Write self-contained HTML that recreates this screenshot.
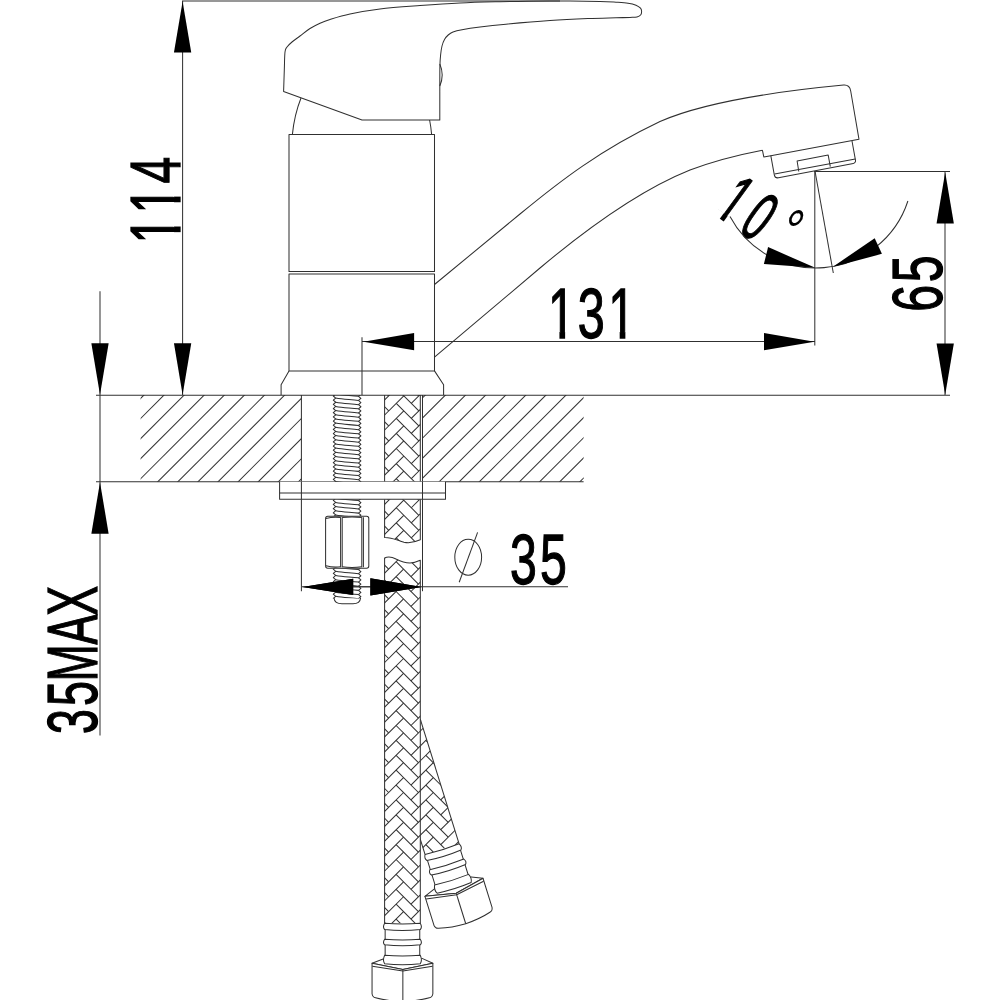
<!DOCTYPE html>
<html><head><meta charset="utf-8"><title>Faucet dimension drawing</title>
<style>
html,body{margin:0;padding:0;background:#fff;}
body{width:1000px;height:1000px;overflow:hidden;}
svg{display:block;}
svg text{font-family:"Liberation Sans",sans-serif;fill:#000;stroke:#000;stroke-width:0.8px;}
.l *, .l{fill:none;stroke:#303030;stroke-width:1.02;stroke-linecap:butt;stroke-linejoin:round;}
.f{fill:#000;stroke:none;}
</style></head><body>
<svg width="1000" height="1000" viewBox="0 0 1000 1000">
<rect width="1000" height="1000" fill="#fff"/>
<g transform="translate(0.00,338.10) rotate(0)"><text x="547.90 577.87 608.15" y="0" font-size="71" textLength="81.15" lengthAdjust="spacingAndGlyphs" style="stroke-width:1.3px">131</text><rect x="549.50" y="-6.35" width="9.93" height="7.95" fill="#fff"/><rect x="565.12" y="-6.35" width="9.55" height="7.95" fill="#fff"/><rect x="609.75" y="-6.35" width="9.93" height="7.95" fill="#fff"/><rect x="625.37" y="-6.35" width="9.55" height="7.95" fill="#fff"/></g>
<g transform="translate(0.00,583.60) rotate(0)"><text x="509.92 540.02" y="0" font-size="71" textLength="53.71" lengthAdjust="spacingAndGlyphs" style="stroke-width:1.3px">35</text></g>
<g transform="translate(179.70,239.20) rotate(-90)"><text x="-4.30 25.60 55.73" y="0" font-size="71" textLength="79.97" lengthAdjust="spacingAndGlyphs" style="stroke-width:1.3px">114</text><rect x="-2.75" y="-6.35" width="9.80" height="7.95" fill="#fff"/><rect x="12.69" y="-6.35" width="9.43" height="7.95" fill="#fff"/><rect x="27.15" y="-6.35" width="9.80" height="7.95" fill="#fff"/><rect x="42.59" y="-6.35" width="9.43" height="7.95" fill="#fff"/></g>
<g transform="translate(942.40,309.80) rotate(-90)"><text x="-1.89 27.57" y="0" font-size="71" textLength="53.71" lengthAdjust="spacingAndGlyphs" style="stroke-width:1.3px">65</text></g>
<g transform="translate(96.80,733.60) rotate(-90)"><text x="-0.31 27.61 52.17 89.08 117.85" y="0" font-size="71" textLength="146.69" lengthAdjust="spacingAndGlyphs" style="stroke-width:1.3px">35MAX</text></g>
<g transform="translate(714.80,214.20) rotate(36)"><text x="-2.46 27.24" y="0" font-size="71" textLength="43.44" lengthAdjust="spacingAndGlyphs" style="stroke-width:1.3px">10</text><rect x="-1.59" y="-6.35" width="8.25" height="7.95" fill="#fff"/><rect x="11.51" y="-6.35" width="7.94" height="7.95" fill="#fff"/></g>
<g transform="translate(720.10,206.90) rotate(36)"><text x="59.66" y="0" font-size="64" textLength="16.89" lengthAdjust="spacingAndGlyphs" style="stroke-width:0.1px">°</text></g>
<g class="l">
<line x1="182.00" y1="1.00" x2="560.00" y2="1.00" />
<line x1="182.60" y1="1.00" x2="182.60" y2="395.00" />
<line x1="100.00" y1="291.30" x2="100.00" y2="735.60" />
<line x1="96.00" y1="395.25" x2="950.00" y2="395.25" />
<line x1="96.00" y1="481.70" x2="583.60" y2="481.70" />
<line x1="945.00" y1="171.60" x2="945.00" y2="395.00" />
<line x1="814.20" y1="171.60" x2="950.00" y2="171.60" />
<line x1="362.00" y1="341.50" x2="815.00" y2="341.50" />
<line x1="814.80" y1="171.00" x2="814.80" y2="345.50" />
<line x1="362.00" y1="337.30" x2="362.00" y2="395.00" />
<line x1="815.00" y1="171.00" x2="833.30" y2="273.00" />
<path d="M730,216.5 A97,97 0 0 0 907.9,201" />
<line x1="301.40" y1="395.00" x2="301.40" y2="591.20" />
<line x1="422.50" y1="395.00" x2="422.50" y2="591.20" />
<line x1="302.00" y1="586.80" x2="568.00" y2="586.80" />
</g>
<polygon class="f" points="182.60,1.50 191.25,52.50 173.95,52.50"/>
<polygon class="f" points="182.60,394.80 173.95,343.30 191.25,343.30"/>
<polygon class="f" points="100.00,394.80 91.35,343.30 108.65,343.30"/>
<polygon class="f" points="100.00,482.30 108.65,533.70 91.35,533.70"/>
<polygon class="f" points="945.20,172.20 953.85,223.50 936.55,223.50"/>
<polygon class="f" points="945.20,394.80 936.55,343.50 953.85,343.50"/>
<polygon class="f" points="363.50,341.70 414.10,333.05 414.10,350.35"/>
<polygon class="f" points="814.50,341.70 764.00,350.35 764.00,333.05"/>
<polygon class="f" points="815.30,267.80 763.91,263.89 768.09,247.11"/>
<polygon class="f" points="832.60,267.00 874.69,238.14 881.91,253.86"/>
<polygon class="f" points="302.60,586.90 353.20,578.70 353.20,595.10"/>
<polygon class="f" points="421.60,586.90 370.40,595.50 370.40,578.30"/>
<g class="l">
<path d="M283.60,91.60 C283.72,88.00 284.07,76.60 284.30,70.00 C284.53,63.40 284.55,55.83 285.00,52.00 C285.45,48.17 285.83,48.67 287.00,47.00 C288.17,45.33 289.83,43.83 292.00,42.00 C294.17,40.17 297.00,38.25 300.00,36.00 C303.00,33.75 306.67,30.63 310.00,28.50 C313.33,26.37 316.67,24.72 320.00,23.20 C323.33,21.68 325.00,20.93 330.00,19.40 C335.00,17.87 341.67,15.73 350.00,14.00 C358.33,12.27 368.33,10.40 380.00,9.00 C391.67,7.60 406.67,6.60 420.00,5.60 C433.33,4.60 446.67,3.65 460.00,3.00 C473.33,2.35 488.67,2.00 500.00,1.70 C511.33,1.40 516.33,1.32 528.00,1.20 C539.67,1.08 558.00,0.97 570.00,1.00 C582.00,1.03 592.33,1.20 600.00,1.40 C607.67,1.60 611.33,1.90 616.00,2.20 C620.67,2.50 624.67,2.70 628.00,3.20 C631.33,3.70 633.92,4.37 636.00,5.20 C638.08,6.03 639.57,7.15 640.50,8.20 C641.43,9.25 641.58,10.37 641.60,11.50 C641.62,12.63 641.37,14.10 640.60,15.00 C639.83,15.90 638.77,16.50 637.00,16.90 C635.23,17.30 633.50,17.25 630.00,17.40 C626.50,17.55 623.00,17.60 616.00,17.80 C609.00,18.00 599.00,18.13 588.00,18.60 C577.00,19.07 563.67,19.67 550.00,20.60 C536.33,21.53 517.67,23.13 506.00,24.20 C494.33,25.27 487.33,26.08 480.00,27.00 C472.67,27.92 466.50,28.87 462.00,29.70 C457.50,30.53 455.30,31.12 453.00,32.00 C450.70,32.88 449.62,33.75 448.20,35.00 C446.78,36.25 445.53,37.67 444.50,39.50 C443.47,41.33 442.65,43.42 442.00,46.00 C441.35,48.58 440.95,51.67 440.60,55.00 C440.25,58.33 440.03,60.83 439.90,66.00 C439.77,71.17 439.82,82.67 439.80,86.00 L439.8,120 L362,120 Z" />
<path d="M439.8,64 Q444.6,75 439.8,86" />
<path d="M301,98 Q294.3,115 292.4,134.4" />
<path d="M429.6,120 Q431,127 431.6,134.4" />
<path d="M289,134.4 H434.5 V271.4 H289 Z" />
<path d="M289,274 H434.5 V370.9 H289 Z" />
<path d="M289,370.9 L281.1,384.8 V395 M434.5,370.9 L443.6,384.8 V395" />
<path d="M434.5,284.5 L520,214 C560,181 600,150 660,121.5 C700,104 760,93 843.6,85.1 Q849.6,84.6 850.7,91 L859,139.3 L770.8,155.7 L763.8,156.9 L762.4,150.2" />
<path d="M434.5,357.2 L540,268 C590,226 640,190 690,170 C715,160.5 740,154.5 762.4,150.2" />
<path d="M770.8,155.7 L774.3,174.8 Q775,178.4 778.5,177.8 L852,163.8 Q856,163 855.5,160.3 L852,141" />
<path d="M774.6,173.9 L855.3,158.9" />
<path d="M798.8,171.5 L797.1,161 L828.2,155.1 L830.3,166.6" />
</g>
<g class="l"><ellipse cx="468.2" cy="557.2" rx="13.4" ry="18"/>
<line x1="459.20" y1="582.30" x2="477.60" y2="532.40" />
</g>
<defs>
<clipPath id="cl"><rect x="140.6" y="395" width="160.8" height="86.7"/></clipPath>
<clipPath id="cr"><rect x="422.5" y="395" width="161.1" height="86.7"/></clipPath>
</defs>
<g class="l" clip-path="url(#cl)">
<line x1="56.00" y1="483.00" x2="145.00" y2="394.00" />
<line x1="76.10" y1="483.00" x2="165.10" y2="394.00" />
<line x1="96.20" y1="483.00" x2="185.20" y2="394.00" />
<line x1="116.30" y1="483.00" x2="205.30" y2="394.00" />
<line x1="136.40" y1="483.00" x2="225.40" y2="394.00" />
<line x1="156.50" y1="483.00" x2="245.50" y2="394.00" />
<line x1="176.60" y1="483.00" x2="265.60" y2="394.00" />
<line x1="196.70" y1="483.00" x2="285.70" y2="394.00" />
<line x1="216.80" y1="483.00" x2="305.80" y2="394.00" />
<line x1="236.90" y1="483.00" x2="325.90" y2="394.00" />
<line x1="257.00" y1="483.00" x2="346.00" y2="394.00" />
<line x1="277.10" y1="483.00" x2="366.10" y2="394.00" />
<line x1="297.20" y1="483.00" x2="386.20" y2="394.00" />
</g>
<g class="l" clip-path="url(#cr)">
<line x1="337.40" y1="483.00" x2="426.40" y2="394.00" />
<line x1="357.50" y1="483.00" x2="446.50" y2="394.00" />
<line x1="377.60" y1="483.00" x2="466.60" y2="394.00" />
<line x1="397.70" y1="483.00" x2="486.70" y2="394.00" />
<line x1="417.80" y1="483.00" x2="506.80" y2="394.00" />
<line x1="437.90" y1="483.00" x2="526.90" y2="394.00" />
<line x1="458.00" y1="483.00" x2="547.00" y2="394.00" />
<line x1="478.10" y1="483.00" x2="567.10" y2="394.00" />
<line x1="498.20" y1="483.00" x2="587.20" y2="394.00" />
<line x1="518.30" y1="483.00" x2="607.30" y2="394.00" />
<line x1="538.40" y1="483.00" x2="627.40" y2="394.00" />
<line x1="558.50" y1="483.00" x2="647.50" y2="394.00" />
<line x1="578.60" y1="483.00" x2="667.60" y2="394.00" />
</g>
<defs>
<clipPath id="h1"><rect x="384.6" y="395" width="35.69999999999999" height="86.7"/></clipPath>
<clipPath id="h2"><path d="M384.6,499.3 H420.3 V539.8 C414,542.6 409,543.4 404,542.2 C397,540.2 392,537.2 384.6,537.4 Z"/></clipPath>
<clipPath id="h3"><path d="M384.6,557.9 C388,556.2 392,556.8 396,559 C401,561.6 405,563 410,563 C414,563 417,561.8 420.3,560.3 V923.2 H384.6 Z"/></clipPath>
</defs>
<g class="l" clip-path="url(#h1)">
<line x1="351.10" y1="343.15" x2="373.68" y2="320.57" />
<line x1="366.15" y1="328.10" x2="388.73" y2="350.67" />
<line x1="351.10" y1="358.20" x2="373.68" y2="335.62" />
<line x1="366.15" y1="343.15" x2="388.73" y2="365.72" />
<line x1="351.10" y1="373.25" x2="373.68" y2="350.68" />
<line x1="366.15" y1="358.20" x2="388.73" y2="380.77" />
<line x1="351.10" y1="388.30" x2="373.68" y2="365.72" />
<line x1="366.15" y1="373.25" x2="388.73" y2="395.82" />
<line x1="351.10" y1="403.35" x2="373.68" y2="380.77" />
<line x1="366.15" y1="388.30" x2="388.73" y2="410.87" />
<line x1="351.10" y1="418.40" x2="373.68" y2="395.82" />
<line x1="366.15" y1="403.35" x2="388.73" y2="425.92" />
<line x1="351.10" y1="433.45" x2="373.68" y2="410.88" />
<line x1="366.15" y1="418.40" x2="388.73" y2="440.97" />
<line x1="351.10" y1="448.50" x2="373.68" y2="425.93" />
<line x1="366.15" y1="433.45" x2="388.73" y2="456.02" />
<line x1="351.10" y1="463.55" x2="373.68" y2="440.97" />
<line x1="366.15" y1="448.50" x2="388.73" y2="471.07" />
<line x1="351.10" y1="478.60" x2="373.68" y2="456.02" />
<line x1="366.15" y1="463.55" x2="388.73" y2="486.12" />
<line x1="351.10" y1="493.65" x2="373.68" y2="471.07" />
<line x1="366.15" y1="478.60" x2="388.73" y2="501.17" />
<line x1="351.10" y1="508.70" x2="373.68" y2="486.12" />
<line x1="366.15" y1="493.65" x2="388.73" y2="516.23" />
<line x1="351.10" y1="523.75" x2="373.68" y2="501.18" />
<line x1="366.15" y1="508.70" x2="388.73" y2="531.27" />
<line x1="351.10" y1="538.80" x2="373.68" y2="516.22" />
<line x1="366.15" y1="523.75" x2="388.73" y2="546.33" />
<line x1="381.20" y1="343.15" x2="403.78" y2="320.57" />
<line x1="396.25" y1="328.10" x2="418.83" y2="350.67" />
<line x1="381.20" y1="358.20" x2="403.78" y2="335.62" />
<line x1="396.25" y1="343.15" x2="418.83" y2="365.72" />
<line x1="381.20" y1="373.25" x2="403.78" y2="350.68" />
<line x1="396.25" y1="358.20" x2="418.83" y2="380.77" />
<line x1="381.20" y1="388.30" x2="403.78" y2="365.72" />
<line x1="396.25" y1="373.25" x2="418.83" y2="395.82" />
<line x1="381.20" y1="403.35" x2="403.78" y2="380.77" />
<line x1="396.25" y1="388.30" x2="418.83" y2="410.87" />
<line x1="381.20" y1="418.40" x2="403.78" y2="395.82" />
<line x1="396.25" y1="403.35" x2="418.83" y2="425.92" />
<line x1="381.20" y1="433.45" x2="403.78" y2="410.88" />
<line x1="396.25" y1="418.40" x2="418.83" y2="440.97" />
<line x1="381.20" y1="448.50" x2="403.78" y2="425.93" />
<line x1="396.25" y1="433.45" x2="418.83" y2="456.02" />
<line x1="381.20" y1="463.55" x2="403.78" y2="440.97" />
<line x1="396.25" y1="448.50" x2="418.83" y2="471.07" />
<line x1="381.20" y1="478.60" x2="403.78" y2="456.02" />
<line x1="396.25" y1="463.55" x2="418.83" y2="486.12" />
<line x1="381.20" y1="493.65" x2="403.78" y2="471.07" />
<line x1="396.25" y1="478.60" x2="418.83" y2="501.17" />
<line x1="381.20" y1="508.70" x2="403.78" y2="486.12" />
<line x1="396.25" y1="493.65" x2="418.83" y2="516.23" />
<line x1="381.20" y1="523.75" x2="403.78" y2="501.18" />
<line x1="396.25" y1="508.70" x2="418.83" y2="531.27" />
<line x1="381.20" y1="538.80" x2="403.78" y2="516.22" />
<line x1="396.25" y1="523.75" x2="418.83" y2="546.33" />
<line x1="411.30" y1="343.15" x2="433.88" y2="320.57" />
<line x1="426.35" y1="328.10" x2="448.93" y2="350.67" />
<line x1="411.30" y1="358.20" x2="433.88" y2="335.62" />
<line x1="426.35" y1="343.15" x2="448.93" y2="365.72" />
<line x1="411.30" y1="373.25" x2="433.88" y2="350.68" />
<line x1="426.35" y1="358.20" x2="448.93" y2="380.77" />
<line x1="411.30" y1="388.30" x2="433.88" y2="365.72" />
<line x1="426.35" y1="373.25" x2="448.93" y2="395.82" />
<line x1="411.30" y1="403.35" x2="433.88" y2="380.77" />
<line x1="426.35" y1="388.30" x2="448.93" y2="410.87" />
<line x1="411.30" y1="418.40" x2="433.88" y2="395.82" />
<line x1="426.35" y1="403.35" x2="448.93" y2="425.92" />
<line x1="411.30" y1="433.45" x2="433.88" y2="410.88" />
<line x1="426.35" y1="418.40" x2="448.93" y2="440.97" />
<line x1="411.30" y1="448.50" x2="433.88" y2="425.93" />
<line x1="426.35" y1="433.45" x2="448.93" y2="456.02" />
<line x1="411.30" y1="463.55" x2="433.88" y2="440.97" />
<line x1="426.35" y1="448.50" x2="448.93" y2="471.07" />
<line x1="411.30" y1="478.60" x2="433.88" y2="456.02" />
<line x1="426.35" y1="463.55" x2="448.93" y2="486.12" />
<line x1="411.30" y1="493.65" x2="433.88" y2="471.07" />
<line x1="426.35" y1="478.60" x2="448.93" y2="501.17" />
<line x1="411.30" y1="508.70" x2="433.88" y2="486.12" />
<line x1="426.35" y1="493.65" x2="448.93" y2="516.23" />
<line x1="411.30" y1="523.75" x2="433.88" y2="501.18" />
<line x1="426.35" y1="508.70" x2="448.93" y2="531.27" />
<line x1="411.30" y1="538.80" x2="433.88" y2="516.22" />
<line x1="426.35" y1="523.75" x2="448.93" y2="546.33" />
</g>
<g class="l">
<line x1="384.60" y1="395.00" x2="384.60" y2="481.70" />
<line x1="420.30" y1="395.00" x2="420.30" y2="481.70" />
</g>
<g class="l" clip-path="url(#h2)">
<line x1="351.10" y1="447.55" x2="373.68" y2="424.97" />
<line x1="366.15" y1="432.50" x2="388.73" y2="455.07" />
<line x1="351.10" y1="462.60" x2="373.68" y2="440.02" />
<line x1="366.15" y1="447.55" x2="388.73" y2="470.12" />
<line x1="351.10" y1="477.65" x2="373.68" y2="455.07" />
<line x1="366.15" y1="462.60" x2="388.73" y2="485.17" />
<line x1="351.10" y1="492.70" x2="373.68" y2="470.12" />
<line x1="366.15" y1="477.65" x2="388.73" y2="500.22" />
<line x1="351.10" y1="507.75" x2="373.68" y2="485.17" />
<line x1="366.15" y1="492.70" x2="388.73" y2="515.27" />
<line x1="351.10" y1="522.80" x2="373.68" y2="500.22" />
<line x1="366.15" y1="507.75" x2="388.73" y2="530.32" />
<line x1="351.10" y1="537.85" x2="373.68" y2="515.27" />
<line x1="366.15" y1="522.80" x2="388.73" y2="545.38" />
<line x1="351.10" y1="552.90" x2="373.68" y2="530.32" />
<line x1="366.15" y1="537.85" x2="388.73" y2="560.43" />
<line x1="351.10" y1="567.95" x2="373.68" y2="545.37" />
<line x1="366.15" y1="552.90" x2="388.73" y2="575.48" />
<line x1="351.10" y1="583.00" x2="373.68" y2="560.42" />
<line x1="366.15" y1="567.95" x2="388.73" y2="590.53" />
<line x1="351.10" y1="598.05" x2="373.68" y2="575.47" />
<line x1="366.15" y1="583.00" x2="388.73" y2="605.58" />
<line x1="381.20" y1="447.55" x2="403.78" y2="424.97" />
<line x1="396.25" y1="432.50" x2="418.83" y2="455.07" />
<line x1="381.20" y1="462.60" x2="403.78" y2="440.02" />
<line x1="396.25" y1="447.55" x2="418.83" y2="470.12" />
<line x1="381.20" y1="477.65" x2="403.78" y2="455.07" />
<line x1="396.25" y1="462.60" x2="418.83" y2="485.17" />
<line x1="381.20" y1="492.70" x2="403.78" y2="470.12" />
<line x1="396.25" y1="477.65" x2="418.83" y2="500.22" />
<line x1="381.20" y1="507.75" x2="403.78" y2="485.17" />
<line x1="396.25" y1="492.70" x2="418.83" y2="515.27" />
<line x1="381.20" y1="522.80" x2="403.78" y2="500.22" />
<line x1="396.25" y1="507.75" x2="418.83" y2="530.32" />
<line x1="381.20" y1="537.85" x2="403.78" y2="515.27" />
<line x1="396.25" y1="522.80" x2="418.83" y2="545.38" />
<line x1="381.20" y1="552.90" x2="403.78" y2="530.32" />
<line x1="396.25" y1="537.85" x2="418.83" y2="560.43" />
<line x1="381.20" y1="567.95" x2="403.78" y2="545.37" />
<line x1="396.25" y1="552.90" x2="418.83" y2="575.48" />
<line x1="381.20" y1="583.00" x2="403.78" y2="560.42" />
<line x1="396.25" y1="567.95" x2="418.83" y2="590.53" />
<line x1="381.20" y1="598.05" x2="403.78" y2="575.47" />
<line x1="396.25" y1="583.00" x2="418.83" y2="605.58" />
<line x1="411.30" y1="447.55" x2="433.88" y2="424.97" />
<line x1="426.35" y1="432.50" x2="448.93" y2="455.07" />
<line x1="411.30" y1="462.60" x2="433.88" y2="440.02" />
<line x1="426.35" y1="447.55" x2="448.93" y2="470.12" />
<line x1="411.30" y1="477.65" x2="433.88" y2="455.07" />
<line x1="426.35" y1="462.60" x2="448.93" y2="485.17" />
<line x1="411.30" y1="492.70" x2="433.88" y2="470.12" />
<line x1="426.35" y1="477.65" x2="448.93" y2="500.22" />
<line x1="411.30" y1="507.75" x2="433.88" y2="485.17" />
<line x1="426.35" y1="492.70" x2="448.93" y2="515.27" />
<line x1="411.30" y1="522.80" x2="433.88" y2="500.22" />
<line x1="426.35" y1="507.75" x2="448.93" y2="530.32" />
<line x1="411.30" y1="537.85" x2="433.88" y2="515.27" />
<line x1="426.35" y1="522.80" x2="448.93" y2="545.38" />
<line x1="411.30" y1="552.90" x2="433.88" y2="530.32" />
<line x1="426.35" y1="537.85" x2="448.93" y2="560.43" />
<line x1="411.30" y1="567.95" x2="433.88" y2="545.37" />
<line x1="426.35" y1="552.90" x2="448.93" y2="575.48" />
<line x1="411.30" y1="583.00" x2="433.88" y2="560.42" />
<line x1="426.35" y1="567.95" x2="448.93" y2="590.53" />
<line x1="411.30" y1="598.05" x2="433.88" y2="575.47" />
<line x1="426.35" y1="583.00" x2="448.93" y2="605.58" />
</g>
<g class="l">
<path d="M384.6,499.3 V537.4 C392,537.2 397,540.2 404,542.2 C409,543.4 414,542.6 420.3,539.8 V499.3" />
</g>
<defs>
<clipPath id="rt"><rect x="420.3" y="700" width="200" height="300"/></clipPath>
<clipPath id="h4"><rect x="384.6" y="712" width="35.69999999999999" height="137.70000000000005" transform="rotate(-17.3 420.3 719.2)"/></clipPath>
</defs>
<g clip-path="url(#rt)">
<g class="l" clip-path="url(#h4)">
<line x1="410.98" y1="665.94" x2="433.31" y2="643.61" />
<line x1="425.87" y1="651.05" x2="448.20" y2="673.39" />
<line x1="410.98" y1="680.83" x2="433.31" y2="658.50" />
<line x1="425.87" y1="665.94" x2="448.20" y2="688.28" />
<line x1="410.98" y1="695.72" x2="433.31" y2="673.38" />
<line x1="425.87" y1="680.83" x2="448.20" y2="703.17" />
<line x1="410.98" y1="710.61" x2="433.31" y2="688.27" />
<line x1="425.87" y1="695.72" x2="448.20" y2="718.06" />
<line x1="410.98" y1="725.50" x2="433.31" y2="703.16" />
<line x1="425.87" y1="710.61" x2="448.20" y2="732.95" />
<line x1="410.98" y1="740.39" x2="433.31" y2="718.05" />
<line x1="425.87" y1="725.50" x2="448.20" y2="747.84" />
<line x1="410.98" y1="755.28" x2="433.31" y2="732.95" />
<line x1="425.87" y1="740.39" x2="448.20" y2="762.73" />
<line x1="410.98" y1="770.17" x2="433.31" y2="747.83" />
<line x1="425.87" y1="755.28" x2="448.20" y2="777.62" />
<line x1="410.98" y1="785.06" x2="433.31" y2="762.73" />
<line x1="425.87" y1="770.17" x2="448.20" y2="792.51" />
<line x1="410.98" y1="799.95" x2="433.31" y2="777.62" />
<line x1="425.87" y1="785.06" x2="448.20" y2="807.40" />
<line x1="410.98" y1="814.84" x2="433.31" y2="792.50" />
<line x1="425.87" y1="799.95" x2="448.20" y2="822.29" />
<line x1="410.98" y1="829.73" x2="433.31" y2="807.39" />
<line x1="425.87" y1="814.84" x2="448.20" y2="837.18" />
<line x1="410.98" y1="844.62" x2="433.31" y2="822.28" />
<line x1="425.87" y1="829.73" x2="448.20" y2="852.07" />
<line x1="410.98" y1="859.51" x2="433.31" y2="837.18" />
<line x1="425.87" y1="844.62" x2="448.20" y2="866.96" />
<line x1="410.98" y1="874.40" x2="433.31" y2="852.06" />
<line x1="425.87" y1="859.51" x2="448.20" y2="881.85" />
<line x1="410.98" y1="889.29" x2="433.31" y2="866.96" />
<line x1="425.87" y1="874.40" x2="448.20" y2="896.74" />
<line x1="410.98" y1="904.18" x2="433.31" y2="881.85" />
<line x1="425.87" y1="889.29" x2="448.20" y2="911.63" />
<line x1="410.98" y1="919.07" x2="433.31" y2="896.74" />
<line x1="425.87" y1="904.18" x2="448.20" y2="926.52" />
<line x1="440.76" y1="665.94" x2="463.10" y2="643.61" />
<line x1="455.65" y1="651.05" x2="477.99" y2="673.39" />
<line x1="440.76" y1="680.83" x2="463.10" y2="658.50" />
<line x1="455.65" y1="665.94" x2="477.99" y2="688.28" />
<line x1="440.76" y1="695.72" x2="463.10" y2="673.38" />
<line x1="455.65" y1="680.83" x2="477.99" y2="703.17" />
<line x1="440.76" y1="710.61" x2="463.10" y2="688.27" />
<line x1="455.65" y1="695.72" x2="477.99" y2="718.06" />
<line x1="440.76" y1="725.50" x2="463.10" y2="703.16" />
<line x1="455.65" y1="710.61" x2="477.99" y2="732.95" />
<line x1="440.76" y1="740.39" x2="463.10" y2="718.05" />
<line x1="455.65" y1="725.50" x2="477.99" y2="747.84" />
<line x1="440.76" y1="755.28" x2="463.10" y2="732.95" />
<line x1="455.65" y1="740.39" x2="477.99" y2="762.73" />
<line x1="440.76" y1="770.17" x2="463.10" y2="747.83" />
<line x1="455.65" y1="755.28" x2="477.99" y2="777.62" />
<line x1="440.76" y1="785.06" x2="463.10" y2="762.73" />
<line x1="455.65" y1="770.17" x2="477.99" y2="792.51" />
<line x1="440.76" y1="799.95" x2="463.10" y2="777.62" />
<line x1="455.65" y1="785.06" x2="477.99" y2="807.40" />
<line x1="440.76" y1="814.84" x2="463.10" y2="792.50" />
<line x1="455.65" y1="799.95" x2="477.99" y2="822.29" />
<line x1="440.76" y1="829.73" x2="463.10" y2="807.39" />
<line x1="455.65" y1="814.84" x2="477.99" y2="837.18" />
<line x1="440.76" y1="844.62" x2="463.10" y2="822.28" />
<line x1="455.65" y1="829.73" x2="477.99" y2="852.07" />
<line x1="440.76" y1="859.51" x2="463.10" y2="837.18" />
<line x1="455.65" y1="844.62" x2="477.99" y2="866.96" />
<line x1="440.76" y1="874.40" x2="463.10" y2="852.06" />
<line x1="455.65" y1="859.51" x2="477.99" y2="881.85" />
<line x1="440.76" y1="889.29" x2="463.10" y2="866.96" />
<line x1="455.65" y1="874.40" x2="477.99" y2="896.74" />
<line x1="440.76" y1="904.18" x2="463.10" y2="881.85" />
<line x1="455.65" y1="889.29" x2="477.99" y2="911.63" />
<line x1="440.76" y1="919.07" x2="463.10" y2="896.74" />
<line x1="455.65" y1="904.18" x2="477.99" y2="926.52" />
<line x1="470.54" y1="665.94" x2="492.88" y2="643.61" />
<line x1="485.43" y1="651.05" x2="507.77" y2="673.39" />
<line x1="470.54" y1="680.83" x2="492.88" y2="658.50" />
<line x1="485.43" y1="665.94" x2="507.77" y2="688.28" />
<line x1="470.54" y1="695.72" x2="492.88" y2="673.38" />
<line x1="485.43" y1="680.83" x2="507.77" y2="703.17" />
<line x1="470.54" y1="710.61" x2="492.88" y2="688.27" />
<line x1="485.43" y1="695.72" x2="507.77" y2="718.06" />
<line x1="470.54" y1="725.50" x2="492.88" y2="703.16" />
<line x1="485.43" y1="710.61" x2="507.77" y2="732.95" />
<line x1="470.54" y1="740.39" x2="492.88" y2="718.05" />
<line x1="485.43" y1="725.50" x2="507.77" y2="747.84" />
<line x1="470.54" y1="755.28" x2="492.88" y2="732.95" />
<line x1="485.43" y1="740.39" x2="507.77" y2="762.73" />
<line x1="470.54" y1="770.17" x2="492.88" y2="747.83" />
<line x1="485.43" y1="755.28" x2="507.77" y2="777.62" />
<line x1="470.54" y1="785.06" x2="492.88" y2="762.73" />
<line x1="485.43" y1="770.17" x2="507.77" y2="792.51" />
<line x1="470.54" y1="799.95" x2="492.88" y2="777.62" />
<line x1="485.43" y1="785.06" x2="507.77" y2="807.40" />
<line x1="470.54" y1="814.84" x2="492.88" y2="792.50" />
<line x1="485.43" y1="799.95" x2="507.77" y2="822.29" />
<line x1="470.54" y1="829.73" x2="492.88" y2="807.39" />
<line x1="485.43" y1="814.84" x2="507.77" y2="837.18" />
<line x1="470.54" y1="844.62" x2="492.88" y2="822.28" />
<line x1="485.43" y1="829.73" x2="507.77" y2="852.07" />
<line x1="470.54" y1="859.51" x2="492.88" y2="837.18" />
<line x1="485.43" y1="844.62" x2="507.77" y2="866.96" />
<line x1="470.54" y1="874.40" x2="492.88" y2="852.06" />
<line x1="485.43" y1="859.51" x2="507.77" y2="881.85" />
<line x1="470.54" y1="889.29" x2="492.88" y2="866.96" />
<line x1="485.43" y1="874.40" x2="507.77" y2="896.74" />
<line x1="470.54" y1="904.18" x2="492.88" y2="881.85" />
<line x1="485.43" y1="889.29" x2="507.77" y2="911.63" />
<line x1="470.54" y1="919.07" x2="492.88" y2="896.74" />
<line x1="485.43" y1="904.18" x2="507.77" y2="926.52" />
</g>
<g transform="rotate(-17.3 420.3 719.2)">
<g class="l">
<line x1="384.60" y1="712.00" x2="384.60" y2="849.70" />
<line x1="420.30" y1="719.20" x2="420.30" y2="849.70" />
</g>
<g class="l">
<path d="M385.15000000000003,852.7 V887.7 H419.75000000000006 V852.7 Z" style="fill:#fff"/>
<path d="M372.05000000000007,889.7 L384.45000000000005,884.9000000000001 H422.05000000000007 L432.85,889.7 L402.85,896.1 Z" style="fill:#fff"/>
<path d="M372.05000000000007,889.7 V920.2 Q372.55000000000007,923.7 375.55000000000007,924.2 Q388.45000000000005,927.8000000000001 402.85,928.0 Q418.45000000000005,927.4000000000001 429.35,924.2 Q432.35,923.7 432.85,920.2 V889.7 L402.85,896.1 Z" style="fill:#fff"/>
<line x1="402.85" y1="896.10" x2="402.85" y2="928.00" />
<path d="M372.3500000000001,892.7 L402.85,897.6 L432.55,892.7" />
<path d="M384.65000000000003,849.7 Q402.45000000000005,851.3000000000001 420.25000000000006,849.7 Q422.55000000000007,853.4000000000001 420.25000000000006,856.1 Q402.45000000000005,857.9 384.65000000000003,856.1 Q382.35,853.4000000000001 384.65000000000003,849.7 Z" style="fill:#fff"/>
<path d="M384.65000000000003,865.7 Q402.45000000000005,867.3000000000001 420.25000000000006,865.7 Q422.55000000000007,869.0 420.25000000000006,871.3000000000001 Q402.45000000000005,873.1 384.65000000000003,871.3000000000001 Q382.35,869.0 384.65000000000003,865.7 Z" style="fill:#fff"/>
<path d="M384.65000000000003,881.7 Q402.45000000000005,883.3000000000001 420.25000000000006,881.7 Q422.55000000000007,886.5 420.25000000000006,890.3000000000001 Q402.45000000000005,892.1 384.65000000000003,890.3000000000001 Q382.35,886.5 384.65000000000003,881.7 Z" style="fill:#fff"/>
</g>
</g></g>
<g class="l" clip-path="url(#h3)">
<line x1="351.42" y1="502.15" x2="373.76" y2="479.82" />
<line x1="366.31" y1="487.26" x2="388.65" y2="509.60" />
<line x1="351.42" y1="517.04" x2="373.76" y2="494.71" />
<line x1="366.31" y1="502.15" x2="388.65" y2="524.49" />
<line x1="351.42" y1="531.93" x2="373.76" y2="509.60" />
<line x1="366.31" y1="517.04" x2="388.65" y2="539.38" />
<line x1="351.42" y1="546.82" x2="373.76" y2="524.49" />
<line x1="366.31" y1="531.93" x2="388.65" y2="554.27" />
<line x1="351.42" y1="561.71" x2="373.76" y2="539.38" />
<line x1="366.31" y1="546.82" x2="388.65" y2="569.16" />
<line x1="351.42" y1="576.60" x2="373.76" y2="554.26" />
<line x1="366.31" y1="561.71" x2="388.65" y2="584.05" />
<line x1="351.42" y1="591.49" x2="373.76" y2="569.15" />
<line x1="366.31" y1="576.60" x2="388.65" y2="598.94" />
<line x1="351.42" y1="606.38" x2="373.76" y2="584.04" />
<line x1="366.31" y1="591.49" x2="388.65" y2="613.83" />
<line x1="351.42" y1="621.27" x2="373.76" y2="598.93" />
<line x1="366.31" y1="606.38" x2="388.65" y2="628.72" />
<line x1="351.42" y1="636.16" x2="373.76" y2="613.82" />
<line x1="366.31" y1="621.27" x2="388.65" y2="643.61" />
<line x1="351.42" y1="651.05" x2="373.76" y2="628.72" />
<line x1="366.31" y1="636.16" x2="388.65" y2="658.50" />
<line x1="351.42" y1="665.94" x2="373.76" y2="643.61" />
<line x1="366.31" y1="651.05" x2="388.65" y2="673.39" />
<line x1="351.42" y1="680.83" x2="373.76" y2="658.50" />
<line x1="366.31" y1="665.94" x2="388.65" y2="688.28" />
<line x1="351.42" y1="695.72" x2="373.76" y2="673.38" />
<line x1="366.31" y1="680.83" x2="388.65" y2="703.17" />
<line x1="351.42" y1="710.61" x2="373.76" y2="688.27" />
<line x1="366.31" y1="695.72" x2="388.65" y2="718.06" />
<line x1="351.42" y1="725.50" x2="373.76" y2="703.16" />
<line x1="366.31" y1="710.61" x2="388.65" y2="732.95" />
<line x1="351.42" y1="740.39" x2="373.76" y2="718.05" />
<line x1="366.31" y1="725.50" x2="388.65" y2="747.84" />
<line x1="351.42" y1="755.28" x2="373.76" y2="732.95" />
<line x1="366.31" y1="740.39" x2="388.65" y2="762.73" />
<line x1="351.42" y1="770.17" x2="373.76" y2="747.83" />
<line x1="366.31" y1="755.28" x2="388.65" y2="777.62" />
<line x1="351.42" y1="785.06" x2="373.76" y2="762.73" />
<line x1="366.31" y1="770.17" x2="388.65" y2="792.51" />
<line x1="351.42" y1="799.95" x2="373.76" y2="777.62" />
<line x1="366.31" y1="785.06" x2="388.65" y2="807.40" />
<line x1="351.42" y1="814.84" x2="373.76" y2="792.50" />
<line x1="366.31" y1="799.95" x2="388.65" y2="822.29" />
<line x1="351.42" y1="829.73" x2="373.76" y2="807.39" />
<line x1="366.31" y1="814.84" x2="388.65" y2="837.18" />
<line x1="351.42" y1="844.62" x2="373.76" y2="822.28" />
<line x1="366.31" y1="829.73" x2="388.65" y2="852.07" />
<line x1="351.42" y1="859.51" x2="373.76" y2="837.18" />
<line x1="366.31" y1="844.62" x2="388.65" y2="866.96" />
<line x1="351.42" y1="874.40" x2="373.76" y2="852.06" />
<line x1="366.31" y1="859.51" x2="388.65" y2="881.85" />
<line x1="351.42" y1="889.29" x2="373.76" y2="866.96" />
<line x1="366.31" y1="874.40" x2="388.65" y2="896.74" />
<line x1="351.42" y1="904.18" x2="373.76" y2="881.85" />
<line x1="366.31" y1="889.29" x2="388.65" y2="911.63" />
<line x1="351.42" y1="919.07" x2="373.76" y2="896.74" />
<line x1="366.31" y1="904.18" x2="388.65" y2="926.52" />
<line x1="351.42" y1="933.96" x2="373.76" y2="911.62" />
<line x1="366.31" y1="919.07" x2="388.65" y2="941.41" />
<line x1="351.42" y1="948.85" x2="373.76" y2="926.51" />
<line x1="366.31" y1="933.96" x2="388.65" y2="956.30" />
<line x1="351.42" y1="963.74" x2="373.76" y2="941.40" />
<line x1="366.31" y1="948.85" x2="388.65" y2="971.19" />
<line x1="351.42" y1="978.63" x2="373.76" y2="956.29" />
<line x1="366.31" y1="963.74" x2="388.65" y2="986.08" />
<line x1="381.20" y1="502.15" x2="403.54" y2="479.82" />
<line x1="396.09" y1="487.26" x2="418.43" y2="509.60" />
<line x1="381.20" y1="517.04" x2="403.54" y2="494.71" />
<line x1="396.09" y1="502.15" x2="418.43" y2="524.49" />
<line x1="381.20" y1="531.93" x2="403.54" y2="509.60" />
<line x1="396.09" y1="517.04" x2="418.43" y2="539.38" />
<line x1="381.20" y1="546.82" x2="403.54" y2="524.49" />
<line x1="396.09" y1="531.93" x2="418.43" y2="554.27" />
<line x1="381.20" y1="561.71" x2="403.54" y2="539.38" />
<line x1="396.09" y1="546.82" x2="418.43" y2="569.16" />
<line x1="381.20" y1="576.60" x2="403.54" y2="554.26" />
<line x1="396.09" y1="561.71" x2="418.43" y2="584.05" />
<line x1="381.20" y1="591.49" x2="403.54" y2="569.15" />
<line x1="396.09" y1="576.60" x2="418.43" y2="598.94" />
<line x1="381.20" y1="606.38" x2="403.54" y2="584.04" />
<line x1="396.09" y1="591.49" x2="418.43" y2="613.83" />
<line x1="381.20" y1="621.27" x2="403.54" y2="598.93" />
<line x1="396.09" y1="606.38" x2="418.43" y2="628.72" />
<line x1="381.20" y1="636.16" x2="403.54" y2="613.82" />
<line x1="396.09" y1="621.27" x2="418.43" y2="643.61" />
<line x1="381.20" y1="651.05" x2="403.54" y2="628.72" />
<line x1="396.09" y1="636.16" x2="418.43" y2="658.50" />
<line x1="381.20" y1="665.94" x2="403.54" y2="643.61" />
<line x1="396.09" y1="651.05" x2="418.43" y2="673.39" />
<line x1="381.20" y1="680.83" x2="403.54" y2="658.50" />
<line x1="396.09" y1="665.94" x2="418.43" y2="688.28" />
<line x1="381.20" y1="695.72" x2="403.54" y2="673.38" />
<line x1="396.09" y1="680.83" x2="418.43" y2="703.17" />
<line x1="381.20" y1="710.61" x2="403.54" y2="688.27" />
<line x1="396.09" y1="695.72" x2="418.43" y2="718.06" />
<line x1="381.20" y1="725.50" x2="403.54" y2="703.16" />
<line x1="396.09" y1="710.61" x2="418.43" y2="732.95" />
<line x1="381.20" y1="740.39" x2="403.54" y2="718.05" />
<line x1="396.09" y1="725.50" x2="418.43" y2="747.84" />
<line x1="381.20" y1="755.28" x2="403.54" y2="732.95" />
<line x1="396.09" y1="740.39" x2="418.43" y2="762.73" />
<line x1="381.20" y1="770.17" x2="403.54" y2="747.83" />
<line x1="396.09" y1="755.28" x2="418.43" y2="777.62" />
<line x1="381.20" y1="785.06" x2="403.54" y2="762.73" />
<line x1="396.09" y1="770.17" x2="418.43" y2="792.51" />
<line x1="381.20" y1="799.95" x2="403.54" y2="777.62" />
<line x1="396.09" y1="785.06" x2="418.43" y2="807.40" />
<line x1="381.20" y1="814.84" x2="403.54" y2="792.50" />
<line x1="396.09" y1="799.95" x2="418.43" y2="822.29" />
<line x1="381.20" y1="829.73" x2="403.54" y2="807.39" />
<line x1="396.09" y1="814.84" x2="418.43" y2="837.18" />
<line x1="381.20" y1="844.62" x2="403.54" y2="822.28" />
<line x1="396.09" y1="829.73" x2="418.43" y2="852.07" />
<line x1="381.20" y1="859.51" x2="403.54" y2="837.18" />
<line x1="396.09" y1="844.62" x2="418.43" y2="866.96" />
<line x1="381.20" y1="874.40" x2="403.54" y2="852.06" />
<line x1="396.09" y1="859.51" x2="418.43" y2="881.85" />
<line x1="381.20" y1="889.29" x2="403.54" y2="866.96" />
<line x1="396.09" y1="874.40" x2="418.43" y2="896.74" />
<line x1="381.20" y1="904.18" x2="403.54" y2="881.85" />
<line x1="396.09" y1="889.29" x2="418.43" y2="911.63" />
<line x1="381.20" y1="919.07" x2="403.54" y2="896.74" />
<line x1="396.09" y1="904.18" x2="418.43" y2="926.52" />
<line x1="381.20" y1="933.96" x2="403.54" y2="911.62" />
<line x1="396.09" y1="919.07" x2="418.43" y2="941.41" />
<line x1="381.20" y1="948.85" x2="403.54" y2="926.51" />
<line x1="396.09" y1="933.96" x2="418.43" y2="956.30" />
<line x1="381.20" y1="963.74" x2="403.54" y2="941.40" />
<line x1="396.09" y1="948.85" x2="418.43" y2="971.19" />
<line x1="381.20" y1="978.63" x2="403.54" y2="956.29" />
<line x1="396.09" y1="963.74" x2="418.43" y2="986.08" />
<line x1="410.98" y1="502.15" x2="433.31" y2="479.82" />
<line x1="425.87" y1="487.26" x2="448.20" y2="509.60" />
<line x1="410.98" y1="517.04" x2="433.31" y2="494.71" />
<line x1="425.87" y1="502.15" x2="448.20" y2="524.49" />
<line x1="410.98" y1="531.93" x2="433.31" y2="509.60" />
<line x1="425.87" y1="517.04" x2="448.20" y2="539.38" />
<line x1="410.98" y1="546.82" x2="433.31" y2="524.49" />
<line x1="425.87" y1="531.93" x2="448.20" y2="554.27" />
<line x1="410.98" y1="561.71" x2="433.31" y2="539.38" />
<line x1="425.87" y1="546.82" x2="448.20" y2="569.16" />
<line x1="410.98" y1="576.60" x2="433.31" y2="554.26" />
<line x1="425.87" y1="561.71" x2="448.20" y2="584.05" />
<line x1="410.98" y1="591.49" x2="433.31" y2="569.15" />
<line x1="425.87" y1="576.60" x2="448.20" y2="598.94" />
<line x1="410.98" y1="606.38" x2="433.31" y2="584.04" />
<line x1="425.87" y1="591.49" x2="448.20" y2="613.83" />
<line x1="410.98" y1="621.27" x2="433.31" y2="598.93" />
<line x1="425.87" y1="606.38" x2="448.20" y2="628.72" />
<line x1="410.98" y1="636.16" x2="433.31" y2="613.82" />
<line x1="425.87" y1="621.27" x2="448.20" y2="643.61" />
<line x1="410.98" y1="651.05" x2="433.31" y2="628.72" />
<line x1="425.87" y1="636.16" x2="448.20" y2="658.50" />
<line x1="410.98" y1="665.94" x2="433.31" y2="643.61" />
<line x1="425.87" y1="651.05" x2="448.20" y2="673.39" />
<line x1="410.98" y1="680.83" x2="433.31" y2="658.50" />
<line x1="425.87" y1="665.94" x2="448.20" y2="688.28" />
<line x1="410.98" y1="695.72" x2="433.31" y2="673.38" />
<line x1="425.87" y1="680.83" x2="448.20" y2="703.17" />
<line x1="410.98" y1="710.61" x2="433.31" y2="688.27" />
<line x1="425.87" y1="695.72" x2="448.20" y2="718.06" />
<line x1="410.98" y1="725.50" x2="433.31" y2="703.16" />
<line x1="425.87" y1="710.61" x2="448.20" y2="732.95" />
<line x1="410.98" y1="740.39" x2="433.31" y2="718.05" />
<line x1="425.87" y1="725.50" x2="448.20" y2="747.84" />
<line x1="410.98" y1="755.28" x2="433.31" y2="732.95" />
<line x1="425.87" y1="740.39" x2="448.20" y2="762.73" />
<line x1="410.98" y1="770.17" x2="433.31" y2="747.83" />
<line x1="425.87" y1="755.28" x2="448.20" y2="777.62" />
<line x1="410.98" y1="785.06" x2="433.31" y2="762.73" />
<line x1="425.87" y1="770.17" x2="448.20" y2="792.51" />
<line x1="410.98" y1="799.95" x2="433.31" y2="777.62" />
<line x1="425.87" y1="785.06" x2="448.20" y2="807.40" />
<line x1="410.98" y1="814.84" x2="433.31" y2="792.50" />
<line x1="425.87" y1="799.95" x2="448.20" y2="822.29" />
<line x1="410.98" y1="829.73" x2="433.31" y2="807.39" />
<line x1="425.87" y1="814.84" x2="448.20" y2="837.18" />
<line x1="410.98" y1="844.62" x2="433.31" y2="822.28" />
<line x1="425.87" y1="829.73" x2="448.20" y2="852.07" />
<line x1="410.98" y1="859.51" x2="433.31" y2="837.18" />
<line x1="425.87" y1="844.62" x2="448.20" y2="866.96" />
<line x1="410.98" y1="874.40" x2="433.31" y2="852.06" />
<line x1="425.87" y1="859.51" x2="448.20" y2="881.85" />
<line x1="410.98" y1="889.29" x2="433.31" y2="866.96" />
<line x1="425.87" y1="874.40" x2="448.20" y2="896.74" />
<line x1="410.98" y1="904.18" x2="433.31" y2="881.85" />
<line x1="425.87" y1="889.29" x2="448.20" y2="911.63" />
<line x1="410.98" y1="919.07" x2="433.31" y2="896.74" />
<line x1="425.87" y1="904.18" x2="448.20" y2="926.52" />
<line x1="410.98" y1="933.96" x2="433.31" y2="911.62" />
<line x1="425.87" y1="919.07" x2="448.20" y2="941.41" />
<line x1="410.98" y1="948.85" x2="433.31" y2="926.51" />
<line x1="425.87" y1="933.96" x2="448.20" y2="956.30" />
<line x1="410.98" y1="963.74" x2="433.31" y2="941.40" />
<line x1="425.87" y1="948.85" x2="448.20" y2="971.19" />
<line x1="410.98" y1="978.63" x2="433.31" y2="956.29" />
<line x1="425.87" y1="963.74" x2="448.20" y2="986.08" />
</g>
<g class="l">
<path d="M384.6,923.2 V557.9 C388,556.2 392,556.8 396,559 C401,561.6 405,563 410,563 C414,563 417,561.8 420.3,560.3 V923.2" />
<path d="M385.15000000000003,926.2 V961.2 H419.75000000000006 V926.2 Z" style="fill:#fff"/>
<path d="M372.05000000000007,963.2 L384.45000000000005,958.4000000000001 H422.05000000000007 L432.85,963.2 L402.85,969.6 Z" style="fill:#fff"/>
<path d="M372.05000000000007,963.2 V993.7 Q372.55000000000007,997.2 375.55000000000007,997.7 Q388.45000000000005,1001.3000000000001 402.85,1001.5 Q418.45000000000005,1000.9000000000001 429.35,997.7 Q432.35,997.2 432.85,993.7 V963.2 L402.85,969.6 Z" style="fill:#fff"/>
<line x1="402.85" y1="969.60" x2="402.85" y2="1001.50" />
<path d="M372.3500000000001,966.2 L402.85,971.1 L432.55,966.2" />
<path d="M384.65000000000003,923.2 Q402.45000000000005,924.8000000000001 420.25000000000006,923.2 Q422.55000000000007,926.9000000000001 420.25000000000006,929.6 Q402.45000000000005,931.4 384.65000000000003,929.6 Q382.35,926.9000000000001 384.65000000000003,923.2 Z" style="fill:#fff"/>
<path d="M384.65000000000003,939.2 Q402.45000000000005,940.8000000000001 420.25000000000006,939.2 Q422.55000000000007,942.5 420.25000000000006,944.8000000000001 Q402.45000000000005,946.6 384.65000000000003,944.8000000000001 Q382.35,942.5 384.65000000000003,939.2 Z" style="fill:#fff"/>
<path d="M384.65000000000003,955.2 Q402.45000000000005,956.8000000000001 420.25000000000006,955.2 Q422.55000000000007,960.0 420.25000000000006,963.8000000000001 Q402.45000000000005,965.6 384.65000000000003,963.8000000000001 Q382.35,960.0 384.65000000000003,955.2 Z" style="fill:#fff"/>
</g>
<g class="l">
<path d="M279.6,481.7 V499.3 H445.5 V481.7" style="fill:#fff"/>
<line x1="279.60" y1="493.00" x2="445.50" y2="493.00" />
<line x1="301.40" y1="481.70" x2="301.40" y2="499.30" />
<line x1="422.50" y1="481.70" x2="422.50" y2="499.30" />
</g>
<defs><clipPath id="rd395"><rect x="330" y="395" width="34" height="86.69999999999999"/></clipPath></defs>
<g class="l" clip-path="url(#rd395)" style="stroke-width:1">
<path d="M335.7,393.91 C343.7,395.51 350.5,395.23 358.5,396.31" />
<path d="M335.7,398.08 C343.7,399.69 350.5,399.40 358.5,400.48" />
<path d="M335.7,402.25 C343.7,403.86 350.5,403.57 358.5,404.65" />
<path d="M335.7,406.42 C343.7,408.02 350.5,407.74 358.5,408.82" />
<path d="M335.7,410.59 C343.7,412.19 350.5,411.91 358.5,412.99" />
<path d="M335.7,414.76 C343.7,416.37 350.5,416.08 358.5,417.16" />
<path d="M335.7,418.94 C343.7,420.54 350.5,420.25 358.5,421.33" />
<path d="M335.7,423.10 C343.7,424.70 350.5,424.42 358.5,425.50" />
<path d="M335.7,427.27 C343.7,428.88 350.5,428.59 358.5,429.67" />
<path d="M335.7,431.44 C343.7,433.05 350.5,432.76 358.5,433.84" />
<path d="M335.7,435.61 C343.7,437.21 350.5,436.93 358.5,438.01" />
<path d="M335.7,439.78 C343.7,441.38 350.5,441.10 358.5,442.18" />
<path d="M335.7,443.95 C343.7,445.56 350.5,445.27 358.5,446.35" />
<path d="M335.7,448.12 C343.7,449.73 350.5,449.44 358.5,450.52" />
<path d="M335.7,452.29 C343.7,453.89 350.5,453.61 358.5,454.69" />
<path d="M335.7,456.46 C343.7,458.06 350.5,457.78 358.5,458.86" />
<path d="M335.7,460.63 C343.7,462.24 350.5,461.95 358.5,463.03" />
<path d="M335.7,464.81 C343.7,466.41 350.5,466.12 358.5,467.20" />
<path d="M335.7,468.97 C343.7,470.57 350.5,470.29 358.5,471.37" />
<path d="M335.7,473.14 C343.7,474.75 350.5,474.46 358.5,475.54" />
<path d="M335.7,477.31 C343.7,478.92 350.5,478.63 358.5,479.71" />
<path d="M335.7,481.48 C343.7,483.08 350.5,482.80 358.5,483.88" />
<path d="M335.7,485.65 C343.7,487.25 350.5,486.97 358.5,488.05" />
<polyline points="333.30,391.83 335.70,393.91 333.30,396.00 335.70,398.08 333.30,400.17 335.70,402.25 333.30,404.34 335.70,406.42 333.30,408.51 335.70,410.59 333.30,412.68 335.70,414.76 333.30,416.85 335.70,418.94 333.30,421.02 335.70,423.10 333.30,425.19 335.70,427.27 333.30,429.36 335.70,431.44 333.30,433.53 335.70,435.61 333.30,437.70 335.70,439.78 333.30,441.87 335.70,443.95 333.30,446.04 335.70,448.12 333.30,450.21 335.70,452.29 333.30,454.38 335.70,456.46 333.30,458.55 335.70,460.63 333.30,462.72 335.70,464.81 333.30,466.89 335.70,468.97 333.30,471.06 335.70,473.14 333.30,475.23 335.70,477.31 333.30,479.40 335.70,481.48 333.30,483.57 335.70,485.65"/>
<polyline points="360.90,394.23 358.50,396.31 360.90,398.40 358.50,400.48 360.90,402.57 358.50,404.65 360.90,406.74 358.50,408.82 360.90,410.91 358.50,412.99 360.90,415.08 358.50,417.16 360.90,419.25 358.50,421.33 360.90,423.42 358.50,425.50 360.90,427.59 358.50,429.67 360.90,431.76 358.50,433.84 360.90,435.93 358.50,438.01 360.90,440.10 358.50,442.18 360.90,444.27 358.50,446.35 360.90,448.44 358.50,450.52 360.90,452.61 358.50,454.69 360.90,456.78 358.50,458.86 360.90,460.95 358.50,463.03 360.90,465.12 358.50,467.20 360.90,469.29 358.50,471.37 360.90,473.46 358.50,475.54 360.90,477.63 358.50,479.71 360.90,481.80 358.50,483.88 360.90,485.97 358.50,488.05"/>
</g>
<defs><clipPath id="rd499"><rect x="330" y="499.3" width="34" height="16.900000000000034"/></clipPath></defs>
<g class="l" clip-path="url(#rd499)" style="stroke-width:1">
<path d="M335.7,498.21 C343.7,499.81 350.5,499.53 358.5,500.61" />
<path d="M335.7,502.38 C343.7,503.99 350.5,503.70 358.5,504.78" />
<path d="M335.7,506.56 C343.7,508.16 350.5,507.87 358.5,508.95" />
<path d="M335.7,510.72 C343.7,512.32 350.5,512.04 358.5,513.12" />
<path d="M335.7,514.90 C343.7,516.50 350.5,516.21 358.5,517.30" />
<path d="M335.7,519.07 C343.7,520.67 350.5,520.38 358.5,521.47" />
<path d="M335.7,523.24 C343.7,524.84 350.5,524.55 358.5,525.63" />
<polyline points="333.30,496.13 335.70,498.21 333.30,500.30 335.70,502.38 333.30,504.47 335.70,506.56 333.30,508.64 335.70,510.72 333.30,512.81 335.70,514.90 333.30,516.98 335.70,519.07 333.30,521.15 335.70,523.24"/>
<polyline points="360.90,498.53 358.50,500.61 360.90,502.70 358.50,504.78 360.90,506.87 358.50,508.95 360.90,511.04 358.50,513.12 360.90,515.21 358.50,517.30 360.90,519.38 358.50,521.47 360.90,523.55 358.50,525.63"/>
</g>
<defs><clipPath id="rd568"><rect x="330" y="568.2" width="34" height="30.299999999999955"/></clipPath></defs>
<g class="l" clip-path="url(#rd568)" style="stroke-width:1">
<path d="M335.7,567.12 C343.7,568.72 350.5,568.43 358.5,569.52" />
<path d="M335.7,571.29 C343.7,572.89 350.5,572.60 358.5,573.69" />
<path d="M335.7,575.46 C343.7,577.06 350.5,576.77 358.5,577.86" />
<path d="M335.7,579.63 C343.7,581.23 350.5,580.94 358.5,582.03" />
<path d="M335.7,583.80 C343.7,585.40 350.5,585.11 358.5,586.20" />
<path d="M335.7,587.97 C343.7,589.57 350.5,589.28 358.5,590.37" />
<path d="M335.7,592.14 C343.7,593.74 350.5,593.45 358.5,594.54" />
<path d="M335.7,596.31 C343.7,597.91 350.5,597.62 358.5,598.71" />
<path d="M335.7,600.48 C343.7,602.08 350.5,601.79 358.5,602.88" />
<path d="M335.7,604.65 C343.7,606.25 350.5,605.96 358.5,607.05" />
<polyline points="333.30,565.03 335.70,567.12 333.30,569.20 335.70,571.29 333.30,573.37 335.70,575.46 333.30,577.54 335.70,579.63 333.30,581.71 335.70,583.80 333.30,585.88 335.70,587.97 333.30,590.05 335.70,592.14 333.30,594.22 335.70,596.31 333.30,598.39 335.70,600.48 333.30,602.56 335.70,604.65"/>
<polyline points="360.90,567.43 358.50,569.52 360.90,571.60 358.50,573.69 360.90,575.77 358.50,577.86 360.90,579.94 358.50,582.03 360.90,584.11 358.50,586.20 360.90,588.28 358.50,590.37 360.90,592.45 358.50,594.54 360.90,596.62 358.50,598.71 360.90,600.79 358.50,602.88 360.90,604.96 358.50,607.05"/>
</g>
<g class="l">
<path d="M334,598 Q334.5,603.8 342,603.8 H353 Q360,603.8 360.6,598" />
<path d="M327.8,516.2 H366.6 Q368.8,516.2 368.8,518.4 V566 Q368.8,568.2 366.6,568.2 H327.8 Q325.6,568.2 325.6,566 V518.4 Q325.6,516.2 327.8,516.2 Z" style="fill:#fff"/>
<line x1="340.60" y1="517.20" x2="340.60" y2="567.20" />
<line x1="342.20" y1="517.20" x2="342.20" y2="567.20" />
<line x1="361.80" y1="517.20" x2="361.80" y2="567.20" />
<line x1="363.40" y1="517.20" x2="363.40" y2="567.20" />
<path d="M326,518.6 Q333,516.6 340.6,517.6 M342.2,517.6 Q352,516.4 361.8,517.6" />
<path d="M326,565.8 Q333,567.8 340.6,566.8 M342.2,566.8 Q352,568 361.8,566.8" />
</g>
<g class="l">
<line x1="353.00" y1="586.80" x2="371.00" y2="586.80" />
</g>
<polygon class="f" points="302.60,586.90 353.20,578.70 353.20,595.10"/>
<polygon class="f" points="421.60,586.90 370.40,595.50 370.40,578.30"/>
</svg>
</body></html>
